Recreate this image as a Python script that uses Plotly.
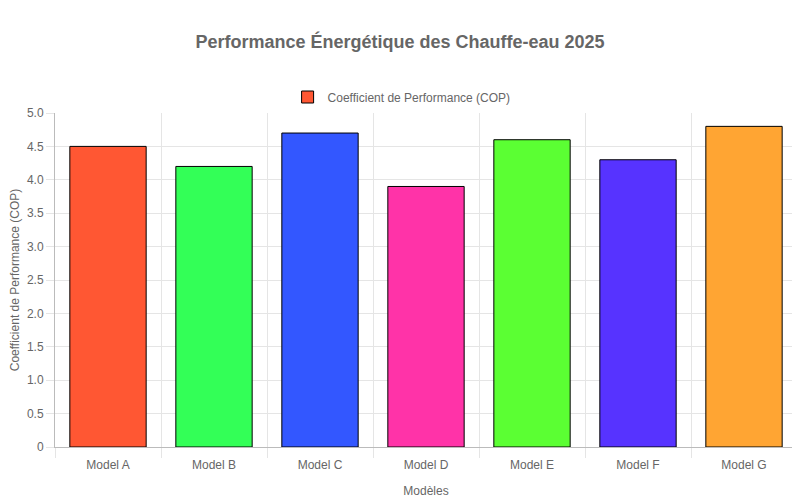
import plotly.graph_objects as go

models = ["Model A", "Model B", "Model C", "Model D", "Model E", "Model F", "Model G"]
cop = [4.5, 4.2, 4.7, 3.9, 4.6, 4.3, 4.8]
colors = ["#FF5733", "#33FF57", "#3357FF", "#FF33A8", "#5BFF33", "#5733FF", "#FFA533"]
y_ticks = [0, 0.5, 1, 1.5, 2, 2.5, 3, 3.5, 4, 4.5, 5]
y_labels = ["0", "0.5", "1.0", "1.5", "2.0", "2.5", "3.0", "3.5", "4.0", "4.5", "5.0"]

font = "Liberation Sans, Arial, Helvetica, sans-serif"
grey = "#666666"
grid = "#e5e5e5"

fig = go.Figure()
fig.add_trace(go.Bar(
    x=models,
    y=cop,
    name="Coefficient de Performance (COP)",
    marker=dict(color=colors, line=dict(color="#000000", width=1)),
    showlegend=True,
    hoverinfo="x+y",
))

# the page puts the figure 8px in from the corner, so margins are shifted to match
fig.update_layout(
    width=800,
    height=500,
    paper_bgcolor="white",
    plot_bgcolor="white",
    font=dict(family=font, size=12, color=grey),
    title=dict(
        text="<b>Performance Énergétique des Chauffe-eau 2025</b>",
        x=0.49,
        xanchor="center",
        y=0.932,
        yanchor="middle",
        font=dict(size=18, color=grey, family=font),
    ),
    legend=dict(
        orientation="h",
        x=0.492,
        xref="container",
        xanchor="center",
        y=0.822,
        yref="container",
        yanchor="middle",
        font=dict(size=12, color=grey),
    ),
    bargap=0.28,
    margin=dict(l=47, r=11, t=105, b=61, autoexpand=False),
    xaxis=dict(
        title=dict(text="Modèles", font=dict(size=12, color=grey)),
        automargin=False,
        tickson="boundaries",
        ticks="outside",
        ticklen=10,
        ticklabelstandoff=7,
        tickcolor=grid,
        showgrid=True,
        gridcolor=grid,
        showline=True,
        linecolor="#bbbbbb",
        tickfont=dict(size=12, color=grey),
    ),
    yaxis=dict(
        title=dict(text="Coefficient de Performance (COP)", font=dict(size=12, color=grey)),
        automargin=False,
        range=[0, 5],
        tickvals=y_ticks,
        ticktext=y_labels,
        ticks="outside",
        ticklen=8,
        tickcolor=grid,
        showgrid=True,
        gridcolor=grid,
        showline=True,
        linecolor="#bbbbbb",
        zeroline=False,
        tickfont=dict(size=12, color=grey),
    ),
)

fig.write_html("out.html")
